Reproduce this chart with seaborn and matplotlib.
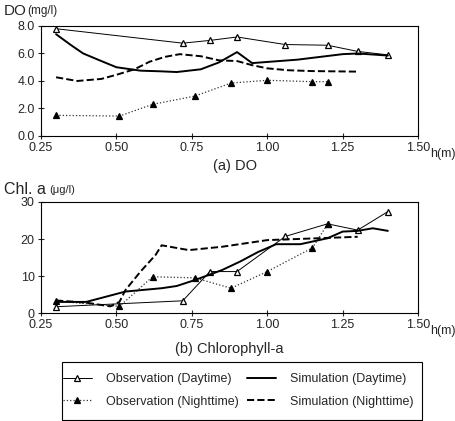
import matplotlib
matplotlib.use("Agg")
import matplotlib.pyplot as plt
import seaborn as sns
from matplotlib.patches import Rectangle
from matplotlib.ticker import FormatStrFormatter

# (a) DO, mg/l
do_obs_day_h = [0.30, 0.72, 0.81, 0.90, 1.06, 1.20, 1.30, 1.40]
do_obs_day = [7.8, 6.75, 6.95, 7.2, 6.65, 6.6, 6.15, 5.9]
do_obs_night_h = [0.30, 0.51, 0.62, 0.76, 0.88, 1.00, 1.15, 1.20]
do_obs_night = [1.5, 1.45, 2.3, 2.9, 3.85, 4.05, 3.95, 3.95]
do_sim_day_h = [0.30, 0.35, 0.39, 0.45, 0.50, 0.58, 0.65, 0.70, 0.78, 0.84,
                0.90, 0.95, 1.10, 1.25, 1.30, 1.40]
do_sim_day = [7.4, 6.6, 6.0, 5.45, 5.0, 4.75, 4.7, 4.65, 4.85, 5.35,
              6.1, 5.3, 5.55, 5.95, 6.0, 5.85]
do_sim_night_h = [0.30, 0.37, 0.45, 0.50, 0.56, 0.61, 0.66, 0.71, 0.78, 0.84,
                  0.90, 0.95, 1.00, 1.07, 1.15, 1.30]
do_sim_night = [4.27, 4.0, 4.15, 4.45, 4.85, 5.4, 5.75, 5.95, 5.8, 5.5,
                5.45, 5.15, 4.92, 4.78, 4.72, 4.68]

# (b) Chlorophyll-a, ug/l
chl_obs_day_h = [0.30, 0.72, 0.81, 0.90, 1.06, 1.20, 1.30, 1.40]
chl_obs_day = [1.7, 3.3, 11.2, 11.2, 20.7, 24.1, 22.4, 27.4]
chl_obs_night_h = [0.30, 0.51, 0.62, 0.76, 0.88, 1.00, 1.15, 1.20]
chl_obs_night = [3.2, 1.8, 9.8, 9.5, 6.7, 11.2, 17.6, 24.0]
chl_sim_day_h = [0.30, 0.40, 0.53, 0.65, 0.70, 0.76, 0.85, 0.91, 0.97, 1.03,
                 1.11, 1.20, 1.25, 1.30, 1.35, 1.40]
chl_sim_day = [3.0, 3.0, 5.8, 6.7, 7.3, 8.9, 11.6, 13.9, 16.5, 18.6,
               18.6, 20.2, 22.0, 22.2, 22.9, 22.2]
chl_sim_night_h = [0.30, 0.40, 0.48, 0.51, 0.53, 0.58, 0.63, 0.65, 0.74, 0.85,
                   1.00, 1.30]
chl_sim_night = [3.4, 2.8, 1.8, 3.0, 6.2, 11.2, 15.7, 18.3, 17.0, 17.9,
                 19.7, 20.6]

x_ticks = [0.25, 0.50, 0.75, 1.00, 1.25, 1.50]

sns.set_style("ticks")
plt.rcParams["font.family"] = ["Liberation Sans", "DejaVu Sans"]
plt.rcParams["font.size"] = 9

STYLES = {
    "Observation (Daytime)": dict(color="black", linestyle="-", lw=0.7, marker="^",
                                  markersize=5, markerfacecolor="white",
                                  markeredgecolor="black", markeredgewidth=0.9),
    "Observation (Nighttime)": dict(color="#333333", linestyle=":", lw=0.9, marker="^",
                                    markersize=5, markerfacecolor="black",
                                    markeredgecolor="black", markeredgewidth=0.9),
    "Simulation (Daytime)": dict(color="black", linestyle="-", lw=1.4),
    "Simulation (Nighttime)": dict(color="black", linestyle="--", lw=1.4),
}


def draw_panel(ax, series, ylim, yticks, yfmt):
    for label, (h, v) in series.items():
        sns.lineplot(x=h, y=v, ax=ax, sort=False, estimator=None, label=label,
                     **STYLES[label])
    ax.set_xlim(0.25, 1.50)
    ax.set_ylim(*ylim)
    ax.set_xticks(x_ticks)
    ax.set_yticks(yticks)
    ax.xaxis.set_major_formatter(FormatStrFormatter("%.2f"))
    ax.yaxis.set_major_formatter(FormatStrFormatter(yfmt))
    ax.tick_params(direction="inout", length=5, width=0.8, labelsize=9, pad=2)
    for sp in ax.spines.values():
        sp.set_visible(True)
        sp.set_linewidth(0.8)
        sp.set_color("black")
    ax.set_xlabel("")
    ax.set_ylabel("")
    ax.get_legend().remove()


fig = plt.figure(figsize=(4.55, 4.21), dpi=100)
ax_do = fig.add_axes([0.0901, 0.677, 0.8286, 0.2613])
ax_chl = fig.add_axes([0.0901, 0.2565, 0.8286, 0.2637])

draw_panel(ax_do, {
    "Observation (Daytime)": (do_obs_day_h, do_obs_day),
    "Observation (Nighttime)": (do_obs_night_h, do_obs_night),
    "Simulation (Daytime)": (do_sim_day_h, do_sim_day),
    "Simulation (Nighttime)": (do_sim_night_h, do_sim_night),
}, (0, 8), [0, 2, 4, 6, 8], "%.1f")

draw_panel(ax_chl, {
    "Observation (Daytime)": (chl_obs_day_h, chl_obs_day),
    "Observation (Nighttime)": (chl_obs_night_h, chl_obs_night),
    "Simulation (Daytime)": (chl_sim_day_h, chl_sim_day),
    "Simulation (Nighttime)": (chl_sim_night_h, chl_sim_night),
}, (0, 30), [0, 10, 20, 30], "%d")

# axis titles / units
fig.text(4 / 455, 1 - 11 / 421, "DO", fontsize=11, va="center", ha="left")
fig.text(27 / 455, 1 - 11 / 421, "(mg/l)", fontsize=8.5, va="center", ha="left")
fig.text(4 / 455, 1 - 190 / 421, "Chl. a", fontsize=11.5, va="center", ha="left")
fig.text(49 / 455, 1 - 190 / 421, "(\u03bcg/l)", fontsize=8, va="center", ha="left")
fig.text(430 / 455, 1 - 154 / 421, "h(m)", fontsize=9, va="center", ha="left")
fig.text(430 / 455, 1 - 331 / 421, "h(m)", fontsize=9, va="center", ha="left")
fig.text(235 / 455, 1 - 166 / 421, "(a) DO", fontsize=10.5, va="center", ha="center")
fig.text(229 / 455, 1 - 349 / 421, "(b) Chlorophyll-a", fontsize=10.5, va="center",
         ha="center")

handles, labels = ax_do.get_legend_handles_labels()
leg = fig.legend(handles, labels, loc="upper left", ncol=2, mode="expand",
                 bbox_to_anchor=(63 / 455, 1 - 373 / 421, 350 / 455, 0),
                 borderaxespad=0, borderpad=0, fontsize=9, frameon=False,
                 handlelength=2.3, handletextpad=1.1, columnspacing=1.8,
                 labelspacing=0.85)
fig.patches.append(Rectangle((62 / 455, 1 / 421), 360 / 455, 58 / 421,
                             transform=fig.transFigure, fill=False,
                             edgecolor="black", linewidth=0.8))

fig.savefig("out.png", dpi=100)
